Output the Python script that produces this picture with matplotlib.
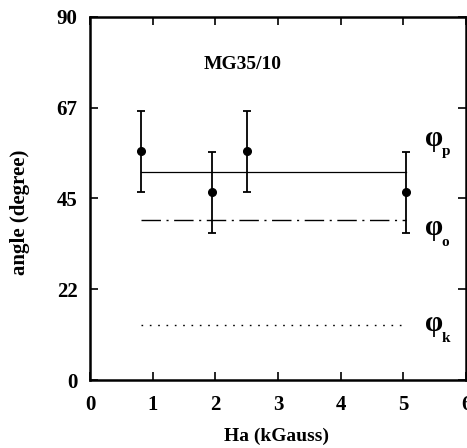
import matplotlib
matplotlib.use("Agg")
import matplotlib.pyplot as plt

# Data
field = [0.82, 1.95, 2.50, 5.05]
angle = [56.7, 46.5, 56.7, 46.5]
angle_err = [10.0, 10.0, 10.0, 10.0]

line_x = [0.82, 5.05]
phi_p = 51.5
phi_o = 39.7
phi_k = 13.6

xticks = [0, 1, 2, 3, 4, 5, 6]
yticks = [0, 22.5, 45, 67.5, 90]
ytick_labels = ["0", "22", "45", "67", "90"]

phi_labels = ['p', 'o', 'k']
phi_label_y = [59.8, 37.7, 14.1]
phi_sub_y = [56.6, 34.0, 10.2]

plt.rcParams['font.family'] = ['Liberation Serif', 'DejaVu Serif']
plt.rcParams['font.weight'] = 'bold'

fig = plt.figure(figsize=(4.67, 4.48), dpi=100)
ax = fig.add_axes([90/467, 68/448, 376/467, 363/448])

ax.errorbar(field, angle, yerr=angle_err, fmt='o', color='black', ms=5.5,
            elinewidth=1.3, capsize=3, capthick=1.3)
ax.plot(line_x, [phi_p, phi_p], color='black', lw=0.9)
ax.plot(line_x, [phi_o, phi_o], color='black', lw=1.0, dashes=[14, 4, 1.5, 4])
ax.plot(line_x, [phi_k, phi_k], color='black', lw=1.0, dashes=[1.2, 4.8])

ax.set_xlim(0, 6)
ax.set_ylim(0, 90)
ax.set_xticks(xticks)
ax.set_yticks(yticks)
ax.set_yticklabels(ytick_labels)
ax.tick_params(direction='in', length=6, width=1.2, top=True, right=True,
               labelsize=15)
ax.tick_params(axis='x', pad=11)
ax.tick_params(axis='y', pad=9)
for lab in ax.get_xticklabels() + ax.get_yticklabels():
    lab.set_fontweight('bold')
for s in ax.spines.values():
    s.set_linewidth(1.8)

fig.text(277/467, 1 - 436/448, 'Ha (kGauss)', fontsize=14, fontweight='bold',
         ha='center', va='center')
fig.text(20/467, 1 - 212/448, 'angle (degree)', fontsize=15, fontweight='bold',
         ha='center', va='center', rotation=90)

ax.text(2.44, 78.2, 'MG35/10', fontsize=14, fontweight='bold', ha='center', va='center')

for yv, ys, sub in zip(phi_label_y, phi_sub_y, phi_labels):
    ax.text(5.34, yv, 'φ', fontsize=21, fontweight='bold', ha='left', va='center')
    ax.text(5.61, ys, sub, fontsize=11, fontweight='bold', ha='left', va='center')

fig.savefig('out.png', dpi=100)
